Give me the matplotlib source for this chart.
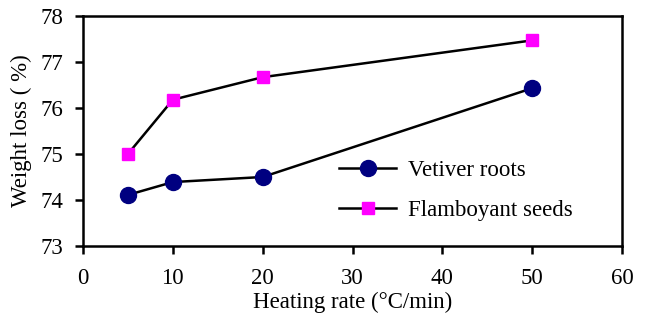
import matplotlib
matplotlib.use("Agg")
import matplotlib.pyplot as plt

# heating rate (°C/min)
rates = [5, 10, 20, 50]
# weight loss (%)
vetiver = [74.11, 74.39, 74.50, 76.43]
flamboyant = [75.00, 76.18, 76.67, 77.47]

plt.rcParams['font.family'] = ['Liberation Serif', 'DejaVu Serif']

fig = plt.figure(figsize=(6.5, 3.27), dpi=100)
ax = fig.add_axes([83 / 650, 1 - 246 / 327, (622 - 83) / 650, (246 - 16) / 327])

ax.plot(rates, vetiver, color='black', lw=1.8, marker='o', markersize=11.5,
        markerfacecolor='#000080', markeredgecolor='#000080', label='Vetiver roots')
ax.plot(rates, flamboyant, color='black', lw=1.8, marker='s', markersize=8.5,
        markerfacecolor='#ff00ff', markeredgecolor='#ff00ff', label='Flamboyant seeds')

ax.set_xlim(0, 60)
ax.set_ylim(73, 78)
ax.set_xticks(range(0, 61, 10))
ax.set_yticks(range(73, 79))
for s in ax.spines.values():
    s.set_linewidth(1.8)
ax.tick_params(direction='out', length=6, width=1.8, labelsize=16.5, pad=8)
ax.tick_params(axis='x', pad=10)

ax.set_xlabel('Heating rate (°C/min)', fontsize=16.5, labelpad=2)
ax.set_ylabel('Weight loss ( %)', fontsize=16.5, labelpad=6)

ax.legend(loc='center left', bbox_to_anchor=(0.437, 0.241), frameon=False, fontsize=16.5,
          handlelength=2.5, labelspacing=0.8, handletextpad=0.5)

fig.savefig('out.png', dpi=100)
